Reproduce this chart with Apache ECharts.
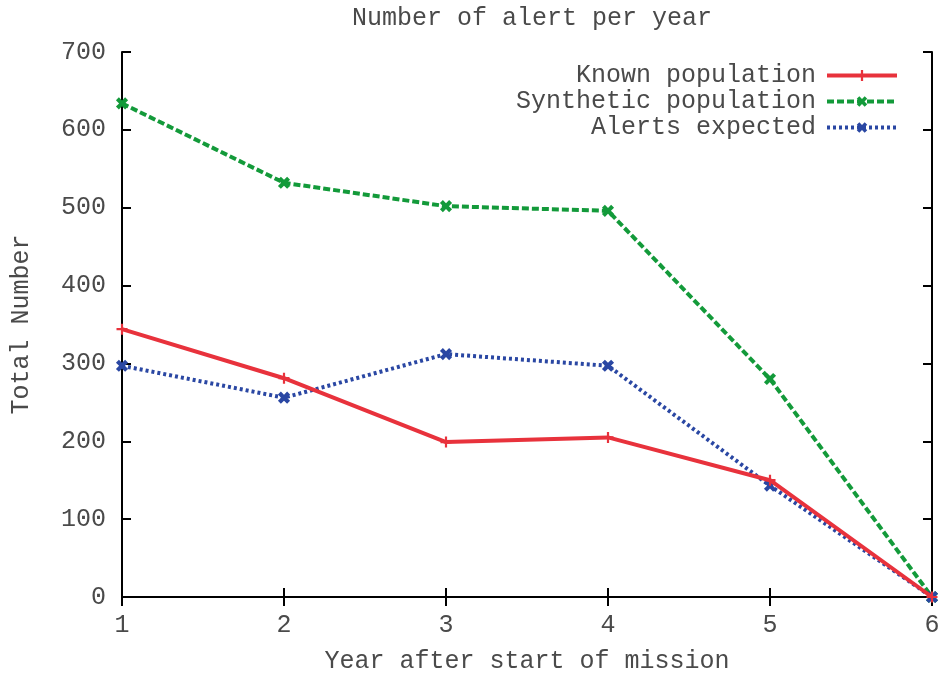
<!DOCTYPE html>
<html>
<head>
<meta charset="utf-8">
<script src="https://cdn.jsdelivr.net/npm/echarts@6/dist/echarts.min.js"></script>
<style>
  html, body { margin: 0; padding: 0; background: #fff; }
  #chart { width: 944px; height: 677px; }
</style>
</head>
<body>
<div id="chart"></div>
<script>
  // years after start of mission
  const years = [1, 2, 3, 4, 5, 6]
  const knownPop = [344, 281, 199, 205, 150, 0]
  const syntheticPop = [634, 532, 502, 496, 280, 0]
  const alertsExpected = [297, 256, 312, 297, 143, 0]
  const yTicks = [0, 100, 200, 300, 400, 500, 600, 700]

  const font = 'Liberation Mono, Courier New, monospace'
  const txt = '#4a4a4a'
  const plus = 'path://M-1,-5 L1,-5 L1,-1 L5,-1 L5,1 L1,1 L1,5 L-1,5 L-1,1 L-5,1 L-5,-1 L-1,-1 Z'
  const cross = 'path://M-1.6,-5 L1.6,-5 L1.6,-1.6 L5,-1.6 L5,1.6 L1.6,1.6 L1.6,5 L-1.6,5 L-1.6,1.6 L-5,1.6 L-5,-1.6 L-1.6,-1.6 Z'

  const pairs = vals => years.map((y, i) => [y, vals[i]])

  const chart = echarts.init(document.getElementById('chart'))
  chart.setOption({
    animation: false,
    backgroundColor: '#fff',
    title: {
      text: 'Number of alert per year',
      left: 527,
      top: 1,
      textAlign: 'center',
      textStyle: { fontFamily: font, fontSize: 25, fontWeight: 'normal', color: txt }
    },
    legend: {
      orient: 'vertical',
      right: 40,
      top: 58,
      align: 'right',
      itemWidth: 70,
      itemHeight: 14,
      itemGap: 1,
      lineStyle: { width: 4 },
      textStyle: { fontFamily: font, fontSize: 25, color: txt, lineHeight: 25, padding: [0, 6, 0, 0] },
      data: ['Known population', 'Synthetic population', 'Alerts expected']
    },
    grid: { left: 122, right: 12, top: 52, bottom: 80, outerBoundsMode: 'none' },
    xAxis: [
      {
        type: 'value', min: 1, max: 6, interval: 1,
        name: 'Year after start of mission',
        nameLocation: 'middle', nameGap: 52,
        nameTextStyle: { fontFamily: font, fontSize: 25, color: txt },
        axisLine: { lineStyle: { color: '#000', width: 2 } },
        axisTick: { inside: true, length: 9, lineStyle: { color: '#000', width: 2 } },
        axisLabel: { fontFamily: font, fontSize: 25, color: txt, margin: 16 },
        splitLine: { show: false }
      },
      {
        type: 'value', min: 1, max: 6, interval: 1, position: 'top',
        axisLine: { lineStyle: { color: '#000', width: 2 } },
        axisTick: { inside: true, length: 9, lineStyle: { color: '#000', width: 2 } },
        axisLabel: { show: false },
        splitLine: { show: false }
      }
    ],
    yAxis: [
      {
        type: 'value', min: 0, max: 700, interval: 100,
        name: 'Total Number',
        nameLocation: 'middle', nameGap: 88,
        nameTextStyle: { fontFamily: font, fontSize: 25, color: txt },
        axisLine: { show: true, lineStyle: { color: '#000', width: 2 } },
        axisTick: { show: true, inside: true, length: 9, lineStyle: { color: '#000', width: 2 } },
        axisLabel: {
          fontFamily: font, fontSize: 25, color: txt, margin: 16,
          formatter: v => yTicks.includes(v) ? String(v) : ''
        },
        splitLine: { show: false }
      },
      {
        type: 'value', min: 0, max: 700, interval: 100, position: 'right',
        axisLine: { show: true, lineStyle: { color: '#000', width: 2 } },
        axisTick: { show: true, inside: true, length: 9, lineStyle: { color: '#000', width: 2 } },
        axisLabel: { show: false },
        splitLine: { show: false }
      }
    ],
    series: [
      {
        name: 'Known population',
        type: 'line',
        data: pairs(knownPop),
        color: '#e8323c',
        lineStyle: { width: 4, color: '#e8323c' },
        symbol: plus, symbolSize: 11,
        itemStyle: { color: '#e8323c' },
        z: 4
      },
      {
        name: 'Synthetic population',
        type: 'line',
        data: pairs(syntheticPop),
        color: '#139a3a',
        lineStyle: { width: 4, color: '#139a3a', type: [7, 3] },
        symbol: cross, symbolRotate: 45, symbolSize: 13,
        itemStyle: { color: '#139a3a' },
        z: 3
      },
      {
        name: 'Alerts expected',
        type: 'line',
        data: pairs(alertsExpected),
        color: '#2a47a3',
        lineStyle: { width: 4, color: '#2a47a3', type: [3, 3] },
        symbol: cross, symbolRotate: 45, symbolSize: 13,
        itemStyle: { color: '#2a47a3' },
        z: 3
      }
    ]
  })
</script>
</body>
</html>
